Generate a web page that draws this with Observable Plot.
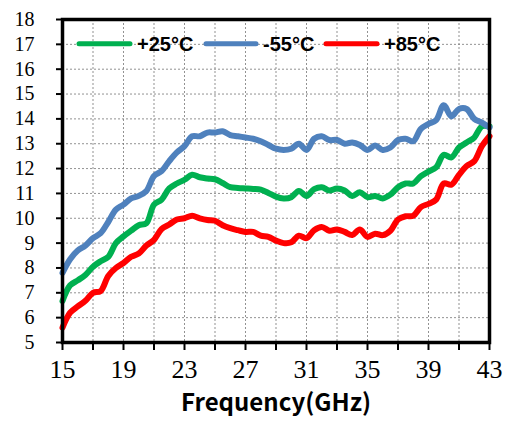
<!DOCTYPE html>
<html>
<head>
<meta charset="utf-8">
<script src="https://cdn.jsdelivr.net/npm/d3@7"></script>
<script src="https://cdn.jsdelivr.net/npm/@observablehq/plot@0.6"></script>
<style>
  html, body { margin: 0; padding: 0; background: #fff; }
  #chart { width: 506px; height: 427px; }
  .serif-lbl, .serif-lbl text { font-family: "Liberation Serif", "Times New Roman", serif !important; }
  .cjk-lbl, .cjk-lbl text { font-family: "Noto Sans CJK SC", sans-serif !important; }
  .legend-txt { font-family: "Liberation Sans", Arial, sans-serif !important; }
</style>
</head>
<body>
<div id="chart"></div>
<script>
// ---- data ----
const freqGHz = [15,15.5,16,16.5,17,17.5,18,18.5,19,19.5,20,20.5,21,21.5,22,22.5,23,23.5,24,24.5,25,25.5,26,26.5,27,27.5,28,28.5,29,29.5,30,30.5,31,31.5,32,32.5,33,33.5,34,34.5,35,35.5,36,36.5,37,37.5,38,38.5,39,39.5,40,40.5,41,41.5,42,42.5,43];
const seriesNames = ["+25°C", "-55°C", "+85°C"];
const seriesColors = ["#00B050", "#4F81BD", "#FF0000"];
const valuesP25 = [6.67,7.3,7.5,7.72,8.05,8.27,8.45,9.0,9.27,9.5,9.72,9.8,10.55,10.75,11.2,11.4,11.55,11.75,11.65,11.6,11.57,11.42,11.25,11.22,11.2,11.18,11.15,11.02,10.87,10.8,10.85,11.1,10.9,11.17,11.25,11.12,11.2,11.12,10.9,11.05,10.85,10.9,10.8,10.95,11.25,11.4,11.4,11.7,11.88,12.05,12.55,12.45,12.85,13.05,13.25,13.7,13.7];
const valuesM55 = [7.8,8.35,8.7,8.9,9.2,9.4,9.85,10.35,10.55,10.8,10.9,11.1,11.7,11.9,12.3,12.65,12.9,13.3,13.3,13.45,13.45,13.5,13.35,13.3,13.25,13.2,13.1,12.95,12.8,12.75,12.8,13.0,12.75,13.2,13.3,13.15,13.15,13.0,13.05,12.95,12.75,12.93,12.75,12.85,13.15,13.2,13.1,13.6,13.8,13.95,14.55,14.1,14.4,14.4,14.0,13.85,13.65];
const valuesP85 = [5.6,6.2,6.45,6.68,7.0,7.07,7.68,8.0,8.2,8.45,8.58,8.9,9.13,9.57,9.75,9.95,10.0,10.1,10.0,9.93,9.9,9.72,9.6,9.52,9.45,9.45,9.3,9.25,9.1,9.0,9.03,9.3,9.2,9.52,9.65,9.5,9.55,9.45,9.33,9.55,9.25,9.38,9.32,9.5,9.95,10.08,10.1,10.45,10.58,10.75,11.4,11.35,11.75,12.1,12.3,12.9,13.3];
const xTickLabels = [15,19,23,27,31,35,39,43];
const xMinorTicks = [15,17,19,21,23,25,27,29,31,33,35,37,39,41,43];
const yTicks = [5,6,7,8,9,10,11,12,13,14,15,16,17,18];
const xLabel = "Frequency(GHz)";

const seriesValues = [valuesP25, valuesM55, valuesP85];
const rows = [];
seriesNames.forEach((name, i) => {
  freqGHz.forEach((f, j) => rows.push({series: name, f, v: seriesValues[i][j]}));
});

const W = 506, H = 427;
const plot = Plot.plot({
  width: W,
  height: H,
  marginLeft: 62,
  marginRight: 17,
  marginTop: 19,
  marginBottom: 85,
  style: {background: "#fff", overflow: "visible"},
  x: {domain: [15, 43]},
  y: {domain: [5, 18]},
  color: {domain: seriesNames, range: seriesColors},
  marks: [
    Plot.gridX(xMinorTicks, {stroke: "#777", strokeOpacity: 0.8, strokeDasharray: "2,2", strokeWidth: 1}),
    Plot.gridY(yTicks, {stroke: "#777", strokeOpacity: 0.8, strokeDasharray: "2,2", strokeWidth: 1}),
    Plot.line(rows, {x: "f", y: "v", z: "series", stroke: "series", strokeWidth: 6, curve: "catmull-rom", strokeLinejoin: "round", strokeLinecap: "round"}),
    Plot.axisY(yTicks, {tickSize: 6, tickFormat: () => "", stroke: "#000", strokeWidth: 2, label: null}),
    Plot.text(yTicks, {y: d => d, text: d => String(d), frameAnchor: "left", dx: -28, textAnchor: "end", fontSize: 20, fontFamily: "Liberation Serif", className: "serif-lbl", fill: "#000"}),
    Plot.axisX(xMinorTicks, {tickSize: 8, tickFormat: () => "", stroke: "#000", strokeWidth: 2, label: null}),
    Plot.axisX(xTickLabels, {tickSize: 0, tickPadding: 17, fontSize: 26, className: "serif-lbl", fill: "#000", label: null}),
    Plot.text([xLabel], {frameAnchor: "bottom", dy: 68, text: d => d, fontSize: 24, fontWeight: "bold", className: "cjk-lbl", fill: "#000"}),
    Plot.frame({stroke: "#000", strokeWidth: 3.5})
  ]
});

const svg = d3.select(plot.tagName === "svg" ? plot : plot.querySelector("svg"));

// legend inside the plot area
const ys = plot.scale("y");
const legendY = ys.apply(17);
const legendItems = [
  {x1: 79, x2: 130, tx: 137},
  {x1: 206, x2: 256, tx: 263},
  {x1: 326, x2: 377, tx: 384}
];
const lg = svg.append("g").attr("text-anchor", "start");
legendItems.forEach((it, i) => {
  lg.append("line").attr("x1", it.x1).attr("x2", it.x2).attr("y1", legendY).attr("y2", legendY)
    .attr("stroke", seriesColors[i]).attr("stroke-width", 5).attr("stroke-linecap", "round");
  lg.append("text").attr("class", "legend-txt").attr("x", it.tx).attr("y", legendY).attr("dy", "0.36em")
    .attr("text-anchor", "start").attr("font-weight", "bold")
    .attr("font-size", 20).attr("fill", "#000").text(seriesNames[i]);
});

document.getElementById("chart").appendChild(plot);
</script>
</body>
</html>
